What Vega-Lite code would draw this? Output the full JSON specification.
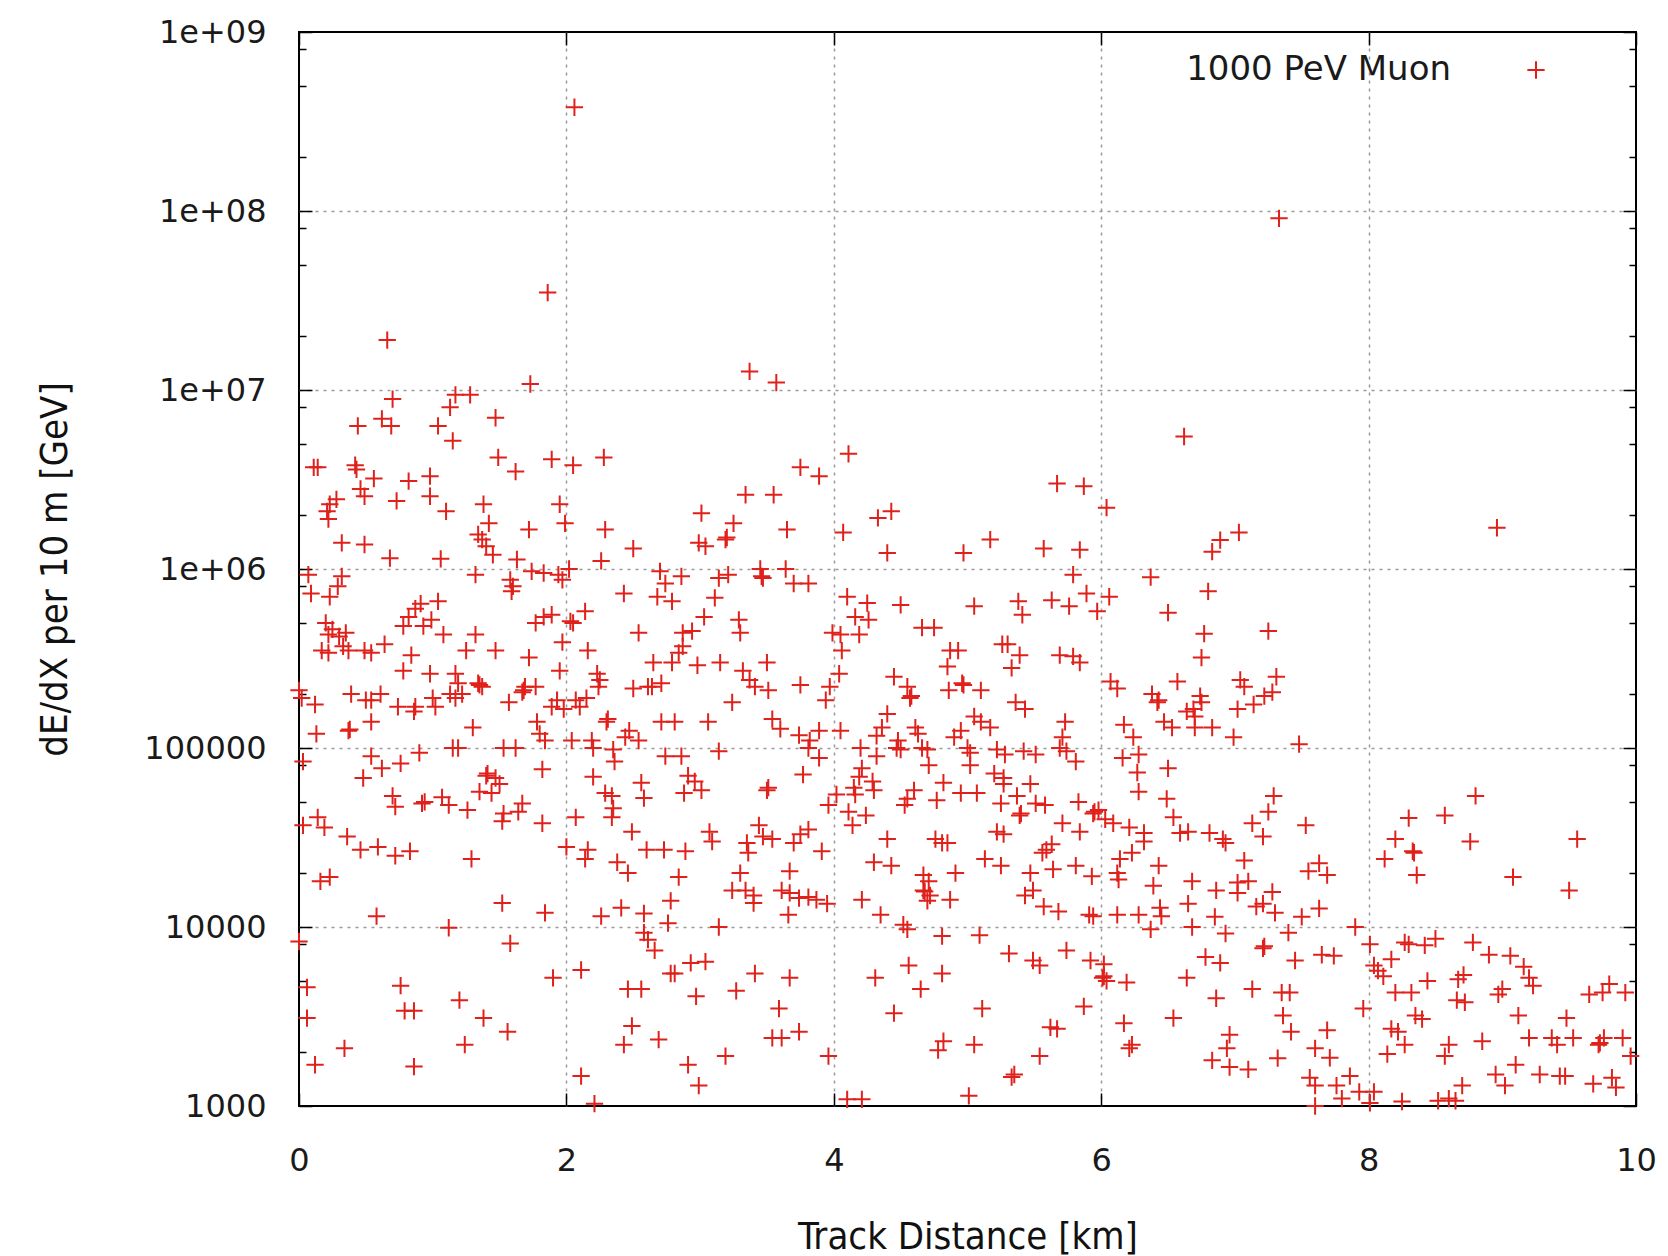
{
  "$schema": "https://vega.github.io/schema/vega-lite/v6.json",
  "width": 1337,
  "height": 1074,
  "autosize": {"type": "none"},
  "padding": {"left": 299, "top": 32, "right": 32, "bottom": 150},
  "background": "white",
  "config": {
    "view": {"stroke": "#000000", "strokeWidth": 2},
    "axis": {
      "domain": false,
      "labelFont": "DejaVu Sans",
      "labelFontSize": 32,
      "labelColor": "#1a1a1a",
      "labelFlush": false,
      "tickColor": "#000000",
      "tickWidth": 1.5,
      "titleFont": "DejaVu Sans Condensed",
      "titleFontSize": 38,
      "titleFontWeight": "normal",
      "titleColor": "#111111",
      "gridColor": "#9a9a9a",
      "gridDash": [3, 5],
      "gridWidth": 1.5,
      "gridOpacity": 1
    }
  },
  "data": {
    "values": [
      {"km":2.06,"gev":3.8e8},{"km":7.33,"gev":9.1e7},{"km":1.86,"gev":3.5e7},{"km":0.66,"gev":1.9e7},{"km":3.37,"gev":1.27e7},{"km":3.57,"gev":1.1e7},{"km":1.73,"gev":1.08e7},
      {"km":0.70,"gev":8.9e6},{"km":0.44,"gev":6.3e6},{"km":0.62,"gev":6.9e6},{"km":0.69,"gev":6.3e6},{"km":1.17,"gev":9.4e6},{"km":1.28,"gev":9.4e6},{"km":1.13,"gev":8.0e6},{"km":1.04,"gev":6.3e6},{"km":1.15,"gev":5.2e6},{"km":1.47,"gev":7.0e6},
      {"km":0.11,"gev":3.7e6},{"km":0.14,"gev":3.7e6},{"km":0.42,"gev":3.8e6},{"km":0.43,"gev":3.6e6},{"km":0.56,"gev":3.2e6},{"km":0.82,"gev":3.1e6},{"km":0.98,"gev":3.3e6},{"km":0.73,"gev":2.4e6},{"km":0.98,"gev":2.55e6},{"km":0.46,"gev":2.8e6},{"km":0.49,"gev":2.55e6},{"km":0.28,"gev":2.45e6},{"km":0.23,"gev":2.3e6},{"km":0.21,"gev":2.1e6},{"km":0.22,"gev":1.9e6},{"km":1.10,"gev":2.1e6},{"km":1.38,"gev":2.3e6},{"km":1.42,"gev":1.8e6},{"km":1.34,"gev":1.56e6},{"km":1.37,"gev":1.46e6},{"km":1.40,"gev":1.34e6},{"km":1.45,"gev":1.2e6},{"km":1.49,"gev":4.2e6},{"km":1.62,"gev":3.5e6},{"km":1.72,"gev":1.66e6},{"km":1.89,"gev":4.1e6},{"km":2.05,"gev":3.8e6},{"km":2.28,"gev":4.2e6},{"km":1.95,"gev":2.3e6},{"km":1.99,"gev":1.8e6},{"km":2.29,"gev":1.66e6},{"km":2.50,"gev":1.3e6},{"km":0.32,"gev":1.4e6},{"km":0.49,"gev":1.37e6},{"km":0.68,"gev":1.15e6},{"km":1.06,"gev":1.14e6},{"km":1.63,"gev":1.13e6},{"km":2.26,"gev":1.11e6},
      {"km":3.01,"gev":2.05e6},{"km":3.25,"gev":1.8e6},{"km":2.99,"gev":1.4e6},{"km":3.04,"gev":1.34e6},{"km":3.19,"gev":1.46e6},{"km":3.20,"gev":1.5e6},
      {"km":0.07,"gev":9.3e5},{"km":0.09,"gev":7.3e5},{"km":0.23,"gev":7.0e5},{"km":0.29,"gev":8.0e5},{"km":0.32,"gev":9.1e5},{"km":1.32,"gev":9.3e5},{"km":1.58,"gev":8.7e5},{"km":1.60,"gev":8.0e5},{"km":1.59,"gev":7.5e5},{"km":1.74,"gev":9.7e5},{"km":1.83,"gev":9.5e5},{"km":1.94,"gev":9.3e5},{"km":1.97,"gev":8.7e5},{"km":2.02,"gev":1.0e6},{"km":2.43,"gev":7.3e5},{"km":2.70,"gev":9.7e5},{"km":2.74,"gev":8.3e5},{"km":2.68,"gev":7.0e5},{"km":2.79,"gev":6.6e5},{"km":2.86,"gev":9.1e5},{"km":3.14,"gev":8.9e5},{"km":3.21,"gev":9.3e5},{"km":3.11,"gev":6.9e5},{"km":3.03,"gev":5.4e5},
      {"km":0.20,"gev":5.0e5},{"km":0.25,"gev":4.6e5},{"km":0.30,"gev":4.2e5},{"km":0.35,"gev":4.4e5},{"km":0.22,"gev":4.3e5},
      {"km":0.17,"gev":3.5e5},{"km":0.22,"gev":3.4e5},{"km":0.33,"gev":3.7e5},{"km":0.37,"gev":3.5e5},{"km":0.49,"gev":3.5e5},{"km":0.54,"gev":3.4e5},{"km":0.64,"gev":3.8e5},{"km":0.78,"gev":4.8e5},{"km":0.82,"gev":5.4e5},{"km":0.87,"gev":6.0e5},{"km":0.91,"gev":6.4e5},{"km":0.93,"gev":4.8e5},{"km":0.99,"gev":5.2e5},{"km":1.04,"gev":6.6e5},{"km":1.08,"gev":4.3e5},{"km":0.84,"gev":3.3e5},{"km":0.78,"gev":2.7e5},{"km":0.98,"gev":2.6e5},{"km":1.17,"gev":2.6e5},{"km":1.32,"gev":4.3e5},{"km":1.25,"gev":3.5e5},{"km":1.47,"gev":3.5e5},{"km":1.72,"gev":3.2e5},{"km":1.77,"gev":5.0e5},{"km":1.83,"gev":5.4e5},{"km":1.89,"gev":5.55e5},{"km":2.03,"gev":5.1e5},{"km":2.05,"gev":5.0e5},{"km":2.14,"gev":5.8e5},{"km":1.97,"gev":3.9e5},{"km":1.95,"gev":2.7e5},{"km":2.16,"gev":3.5e5},{"km":2.54,"gev":4.4e5},{"km":2.87,"gev":4.4e5},{"km":2.94,"gev":4.5e5},{"km":2.87,"gev":3.7e5},{"km":2.84,"gev":3.4e5},{"km":3.29,"gev":5.2e5},{"km":3.30,"gev":4.4e5},{"km":2.65,"gev":3.0e5},{"km":2.79,"gev":3.0e5},{"km":2.98,"gev":2.9e5},{"km":3.15,"gev":3.0e5},{"km":3.32,"gev":2.7e5},{"km":2.61,"gev":2.2e5},{"km":2.64,"gev":2.2e5},{"km":2.71,"gev":2.3e5},{"km":2.50,"gev":2.15e5},{"km":2.23,"gev":2.6e5},{"km":2.25,"gev":2.4e5},{"km":2.24,"gev":2.2e5},{"km":3.24,"gev":1.8e5},{"km":3.06,"gev":1.4e5},{"km":2.71,"gev":1.4e5},{"km":2.81,"gev":1.4e5},{"km":2.47,"gev":1.25e5},{"km":2.44,"gev":1.15e5},{"km":2.30,"gev":1.4e5},{"km":2.31,"gev":1.45e5},{"km":2.07,"gev":1.85e5},{"km":2.10,"gev":1.7e5},{"km":2.15,"gev":1.9e5},{"km":1.89,"gev":1.7e5},{"km":1.93,"gev":1.85e5},{"km":1.98,"gev":1.65e5},{"km":1.78,"gev":1.4e5},{"km":1.80,"gev":1.2e5},{"km":1.84,"gev":1.1e5},{"km":1.69,"gev":2.2e5},{"km":1.68,"gev":2.1e5},{"km":1.67,"gev":2.05e5},{"km":1.77,"gev":2.2e5},{"km":1.57,"gev":1.8e5},{"km":1.34,"gev":2.3e5},{"km":1.35,"gev":2.25e5},{"km":1.37,"gev":2.2e5},{"km":1.19,"gev":2.3e5},{"km":1.13,"gev":2.0e5},{"km":1.17,"gev":1.9e5},{"km":1.22,"gev":2.0e5},{"km":1.00,"gev":1.9e5},{"km":1.02,"gev":1.7e5},{"km":0.87,"gev":1.7e5},{"km":0.86,"gev":1.6e5},{"km":0.74,"gev":1.7e5},{"km":0.54,"gev":1.85e5},{"km":0.61,"gev":2.0e5},{"km":0.50,"gev":1.85e5},{"km":0.39,"gev":2.0e5},{"km":0.54,"gev":1.4e5},{"km":0.37,"gev":1.25e5},{"km":0.38,"gev":1.27e5},{"km":0.13,"gev":1.2e5},{"km":0.12,"gev":1.75e5},{"km":0.00,"gev":2.1e5},{"km":0.02,"gev":1.9e5},{"km":1.30,"gev":1.3e5},{"km":2.04,"gev":1.1e5},{"km":2.19,"gev":1.1e5},{"km":2.54,"gev":1.1e5},
      {"km":3.34,"gev":2.6e6},{"km":3.55,"gev":2.6e6},{"km":3.75,"gev":3.7e6},{"km":3.89,"gev":3.3e6},{"km":3.65,"gev":1.66e6},{"km":4.11,"gev":4.4e6},{"km":4.07,"gev":1.6e6},{"km":4.33,"gev":1.93e6},{"km":4.43,"gev":2.1e6},{"km":4.40,"gev":1.23e6},{"km":5.67,"gev":3.0e6},{"km":5.87,"gev":2.9e6},{"km":6.04,"gev":2.2e6},{"km":6.62,"gev":5.5e6},{"km":5.17,"gev":1.46e6},{"km":4.97,"gev":1.23e6},{"km":5.57,"gev":1.3e6},{"km":5.84,"gev":1.28e6},
      {"km":3.45,"gev":1.0e6},{"km":3.46,"gev":9.1e5},{"km":3.47,"gev":8.9e5},{"km":3.64,"gev":1.0e6},{"km":3.70,"gev":8.3e5},{"km":3.81,"gev":8.3e5},{"km":5.79,"gev":9.3e5},{"km":6.37,"gev":9.0e5},{"km":4.10,"gev":7.0e5},{"km":4.25,"gev":6.45e5},{"km":4.16,"gev":5.4e5},{"km":4.26,"gev":5.2e5},{"km":4.19,"gev":4.3e5},{"km":3.99,"gev":4.4e5},{"km":4.05,"gev":4.3e5},{"km":4.06,"gev":3.5e5},{"km":4.04,"gev":2.6e5},{"km":3.97,"gev":2.2e5},{"km":3.94,"gev":1.85e5},{"km":4.50,"gev":6.3e5},{"km":4.66,"gev":4.7e5},{"km":4.75,"gev":4.7e5},{"km":5.05,"gev":6.2e5},{"km":5.38,"gev":6.6e5},{"km":5.41,"gev":5.55e5},{"km":5.63,"gev":6.7e5},{"km":5.76,"gev":6.2e5},{"km":5.89,"gev":7.3e5},{"km":5.97,"gev":5.8e5},{"km":6.06,"gev":7.0e5},{"km":6.50,"gev":5.7e5},{"km":4.87,"gev":3.5e5},{"km":4.93,"gev":3.5e5},{"km":4.85,"gev":2.85e5},{"km":5.26,"gev":3.8e5},{"km":5.30,"gev":3.8e5},{"km":5.39,"gev":3.3e5},{"km":5.33,"gev":2.8e5},{"km":5.69,"gev":3.3e5},{"km":5.79,"gev":3.25e5},{"km":5.84,"gev":3.0e5},{"km":3.50,"gev":3.0e5},{"km":3.37,"gev":2.4e5},{"km":3.41,"gev":2.2e5},{"km":3.51,"gev":2.1e5},{"km":3.75,"gev":2.25e5},{"km":4.45,"gev":2.5e5},{"km":4.55,"gev":2.2e5},{"km":4.57,"gev":1.9e5},{"km":4.58,"gev":1.95e5},{"km":4.86,"gev":2.1e5},{"km":4.96,"gev":2.3e5},{"km":4.97,"gev":2.25e5},{"km":5.10,"gev":2.1e5},{"km":5.36,"gev":1.8e5},{"km":5.43,"gev":1.65e5},{"km":6.07,"gev":2.35e5},{"km":6.12,"gev":2.15e5},{"km":6.38,"gev":2.0e5},{"km":6.42,"gev":1.8e5},{"km":6.43,"gev":1.85e5},{"km":6.57,"gev":2.35e5},{"km":6.64,"gev":1.6e5},{"km":6.47,"gev":1.4e5},{"km":6.53,"gev":1.3e5},{"km":6.17,"gev":1.35e5},{"km":6.24,"gev":1.15e5},{"km":5.73,"gev":1.4e5},{"km":5.71,"gev":1.15e5},{"km":5.05,"gev":1.5e5},{"km":5.10,"gev":1.4e5},{"km":5.17,"gev":1.3e5},{"km":4.95,"gev":1.25e5},{"km":4.90,"gev":1.15e5},{"km":4.61,"gev":1.3e5},{"km":4.63,"gev":1.2e5},{"km":4.40,"gev":1.55e5},{"km":4.36,"gev":1.3e5},{"km":4.32,"gev":1.17e5},{"km":4.48,"gev":1.1e5},{"km":3.54,"gev":1.45e5},{"km":3.60,"gev":1.28e5},{"km":3.74,"gev":1.18e5},{"km":3.82,"gev":1.1e5},{"km":3.89,"gev":1.25e5},{"km":4.05,"gev":1.25e5},
      {"km":7.03,"gev":1.6e6},{"km":6.89,"gev":1.45e6},{"km":6.83,"gev":1.25e6},{"km":8.96,"gev":1.7e6},{"km":6.80,"gev":7.5e5},{"km":6.77,"gev":4.35e5},{"km":7.25,"gev":4.5e5},{"km":6.75,"gev":3.2e5},{"km":7.04,"gev":2.4e5},{"km":7.07,"gev":2.2e5},{"km":7.31,"gev":2.5e5},{"km":7.28,"gev":2.05e5},{"km":7.22,"gev":1.95e5},{"km":7.14,"gev":1.75e5},{"km":6.74,"gev":1.95e5},{"km":6.75,"gev":1.8e5},{"km":6.69,"gev":1.65e5},{"km":6.70,"gev":1.5e5},{"km":7.02,"gev":1.65e5},{"km":6.70,"gev":1.3e5},{"km":6.83,"gev":1.3e5},{"km":6.99,"gev":1.15e5},{"km":7.48,"gev":1.05e5},
      {"km":0.03,"gev":8.4e4},{"km":0.54,"gev":9.0e4},{"km":0.62,"gev":7.7e4},{"km":0.76,"gev":8.2e4},{"km":0.90,"gev":9.4e4},{"km":1.15,"gev":1.0e5},{"km":1.19,"gev":1.0e5},{"km":0.48,"gev":6.8e4},{"km":0.70,"gev":5.4e4},{"km":0.72,"gev":4.7e4},{"km":0.92,"gev":4.9e4},{"km":0.94,"gev":5.0e4},{"km":1.07,"gev":5.3e4},{"km":1.12,"gev":4.8e4},{"km":1.26,"gev":4.5e4},{"km":1.40,"gev":7.0e4},{"km":1.41,"gev":7.2e4},{"km":1.47,"gev":6.8e4},{"km":1.50,"gev":6.3e4},{"km":1.35,"gev":5.7e4},{"km":1.44,"gev":5.6e4},{"km":1.53,"gev":4.3e4},{"km":1.52,"gev":3.9e4},{"km":1.67,"gev":4.9e4},{"km":1.64,"gev":4.4e4},{"km":1.82,"gev":7.6e4},{"km":1.82,"gev":3.8e4},{"km":1.53,"gev":1.0e5},{"km":1.62,"gev":1.0e5},{"km":0.14,"gev":4.1e4},{"km":0.19,"gev":3.6e4},{"km":0.03,"gev":3.7e4},{"km":0.36,"gev":3.2e4},{"km":0.46,"gev":2.7e4},{"km":0.59,"gev":2.8e4},{"km":0.72,"gev":2.5e4},{"km":0.83,"gev":2.65e4},{"km":1.29,"gev":2.4e4},{"km":0.16,"gev":1.8e4},{"km":0.23,"gev":1.9e4},{"km":0.58,"gev":1.15e4},{"km":1.12,"gev":9.9e3},{"km":1.52,"gev":1.36e4},{"km":1.58,"gev":8.1e3},{"km":1.84,"gev":1.2e4},{"km":0.00,"gev":8.3e3},{"km":0.06,"gev":4.6e3},{"km":0.06,"gev":3.1e3},{"km":0.12,"gev":1.7e3},{"km":0.34,"gev":2.1e3},{"km":0.76,"gev":4.7e3},{"km":0.79,"gev":3.4e3},{"km":0.86,"gev":3.4e3},{"km":0.86,"gev":1.66e3},{"km":1.20,"gev":3.9e3},{"km":1.38,"gev":3.1e3},{"km":1.24,"gev":2.2e3},{"km":1.56,"gev":2.6e3},{"km":1.90,"gev":5.2e3},{"km":2.11,"gev":5.75e3},{"km":2.11,"gev":1.47e3},{"km":2.21,"gev":1.03e3},{"km":2.07,"gev":4.1e4},{"km":2.20,"gev":6.9e4},{"km":2.20,"gev":1.0e5},{"km":2.35,"gev":9.8e4},{"km":2.36,"gev":8.4e4},{"km":2.29,"gev":5.6e4},{"km":2.34,"gev":5.4e4},{"km":2.35,"gev":4.6e4},{"km":2.34,"gev":4.1e4},{"km":2.00,"gev":2.8e4},{"km":2.16,"gev":2.7e4},{"km":2.14,"gev":2.4e4},{"km":2.38,"gev":2.3e4},{"km":2.46,"gev":2.0e4},{"km":2.49,"gev":3.4e4},{"km":2.56,"gev":6.4e4},{"km":2.58,"gev":5.25e4},{"km":2.74,"gev":9.0e4},{"km":2.86,"gev":9.0e4},{"km":2.91,"gev":7.0e4},{"km":2.96,"gev":6.5e4},{"km":3.01,"gev":5.8e4},{"km":2.88,"gev":5.6e4},{"km":3.07,"gev":3.4e4},{"km":3.09,"gev":3.0e4},{"km":3.14,"gev":9.6e4},{"km":2.60,"gev":2.7e4},{"km":2.73,"gev":2.7e4},{"km":2.89,"gev":2.65e4},{"km":2.84,"gev":1.9e4},{"km":3.24,"gev":1.6e4},{"km":3.30,"gev":2.0e4},{"km":2.26,"gev":1.15e4},{"km":2.41,"gev":1.28e4},{"km":2.58,"gev":1.19e4},{"km":2.78,"gev":1.4e4},{"km":2.76,"gev":1.05e4},{"km":3.14,"gev":1.0e4},{"km":2.58,"gev":9.3e3},{"km":2.61,"gev":8.5e3},{"km":2.66,"gev":7.4e3},{"km":2.78,"gev":5.5e3},{"km":2.81,"gev":5.5e3},{"km":2.93,"gev":6.3e3},{"km":3.04,"gev":6.4e3},{"km":2.46,"gev":4.5e3},{"km":2.56,"gev":4.5e3},{"km":2.97,"gev":4.1e3},{"km":3.27,"gev":4.4e3},{"km":2.49,"gev":2.8e3},{"km":2.43,"gev":2.2e3},{"km":2.69,"gev":2.35e3},{"km":2.91,"gev":1.7e3},{"km":2.99,"gev":1.3e3},{"km":3.19,"gev":1.9e3},
      {"km":3.81,"gev":1.0e5},{"km":3.89,"gev":8.8e4},{"km":3.77,"gev":7.1e4},{"km":3.50,"gev":5.8e4},{"km":3.51,"gev":6.0e4},{"km":4.20,"gev":1.0e5},{"km":4.32,"gev":9.0e4},{"km":4.47,"gev":1.0e5},{"km":4.50,"gev":9.8e4},{"km":4.66,"gev":1.0e5},{"km":4.70,"gev":9.8e4},{"km":4.21,"gev":7.7e4},{"km":4.19,"gev":6.9e4},{"km":4.29,"gev":6.5e4},{"km":4.30,"gev":5.8e4},{"km":4.02,"gev":5.5e4},{"km":3.96,"gev":4.8e4},{"km":4.15,"gev":6.0e4},{"km":4.16,"gev":5.5e4},{"km":4.11,"gev":4.4e4},{"km":4.14,"gev":3.7e4},{"km":4.24,"gev":4.2e4},{"km":4.71,"gev":8.0e4},{"km":4.60,"gev":5.8e4},{"km":4.55,"gev":5.2e4},{"km":4.53,"gev":4.8e4},{"km":4.77,"gev":5.1e4},{"km":4.82,"gev":6.4e4},{"km":4.95,"gev":5.6e4},{"km":5.07,"gev":5.6e4},{"km":5.00,"gev":1.0e5},{"km":5.02,"gev":9.4e4},{"km":5.02,"gev":8.0e4},{"km":5.22,"gev":9.8e4},{"km":5.28,"gev":9.2e4},{"km":5.42,"gev":9.6e4},{"km":5.51,"gev":9.2e4},{"km":5.69,"gev":1.0e5},{"km":5.74,"gev":9.6e4},{"km":5.81,"gev":8.4e4},{"km":5.20,"gev":7.2e4},{"km":5.27,"gev":6.8e4},{"km":5.27,"gev":6.3e4},{"km":5.47,"gev":6.3e4},{"km":5.37,"gev":5.4e4},{"km":5.25,"gev":4.9e4},{"km":5.39,"gev":4.2e4},{"km":5.40,"gev":4.3e4},{"km":5.51,"gev":4.9e4},{"km":5.58,"gev":4.8e4},{"km":5.71,"gev":3.8e4},{"km":5.83,"gev":5.0e4},{"km":5.84,"gev":3.4e4},{"km":5.94,"gev":4.3e4},{"km":5.95,"gev":4.4e4},{"km":5.98,"gev":4.5e4},{"km":6.03,"gev":4.0e4},{"km":6.09,"gev":3.8e4},{"km":6.16,"gev":8.8e4},{"km":6.28,"gev":9.2e4},{"km":6.27,"gev":7.3e4},{"km":6.28,"gev":5.7e4},{"km":6.50,"gev":7.7e4},{"km":6.49,"gev":5.2e4},{"km":6.21,"gev":3.6e4},{"km":6.32,"gev":3.35e4},{"km":6.23,"gev":2.6e4},{"km":6.14,"gev":2.4e4},{"km":6.32,"gev":3.0e4},{"km":6.54,"gev":4.1e4},{"km":6.59,"gev":3.35e4},{"km":6.43,"gev":2.2e4},{"km":6.39,"gev":1.7e4},{"km":6.44,"gev":1.28e4},{"km":6.37,"gev":9.7e3},{"km":6.28,"gev":1.17e4},{"km":6.45,"gev":1.15e4},{"km":6.12,"gev":2.0e4},{"km":6.13,"gev":1.84e4},{"km":6.12,"gev":1.17e4},{"km":5.91,"gev":1.17e4},{"km":5.94,"gev":1.15e4},{"km":5.93,"gev":1.92e4},{"km":5.81,"gev":2.2e4},{"km":5.64,"gev":2.1e4},{"km":5.59,"gev":2.7e4},{"km":5.63,"gev":2.9e4},{"km":5.56,"gev":2.6e4},{"km":5.47,"gev":2.0e4},{"km":5.49,"gev":1.6e4},{"km":5.43,"gev":1.5e4},{"km":5.57,"gev":1.3e4},{"km":5.68,"gev":1.22e4},{"km":5.22,"gev":3.4e4},{"km":5.27,"gev":3.3e4},{"km":5.13,"gev":2.4e4},{"km":5.25,"gev":2.2e4},{"km":4.91,"gev":2.0e4},{"km":4.87,"gev":1.42e4},{"km":4.67,"gev":1.95e4},{"km":4.71,"gev":1.8e4},{"km":4.67,"gev":1.6e4},{"km":4.68,"gev":1.58e4},{"km":4.72,"gev":1.5e4},{"km":4.70,"gev":1.4e4},{"km":4.81,"gev":2.95e4},{"km":4.85,"gev":2.95e4},{"km":4.76,"gev":3.1e4},{"km":4.40,"gev":3.1e4},{"km":4.30,"gev":2.3e4},{"km":4.43,"gev":2.2e4},{"km":4.35,"gev":1.17e4},{"km":4.21,"gev":1.42e4},{"km":4.52,"gev":1.03e4},{"km":4.55,"gev":9.7e3},{"km":3.34,"gev":1.6e4},{"km":3.40,"gev":1.5e4},{"km":3.40,"gev":1.36e4},{"km":3.44,"gev":3.7e4},{"km":3.47,"gev":3.2e4},{"km":3.54,"gev":3.1e4},{"km":3.35,"gev":2.95e4},{"km":3.36,"gev":2.6e4},{"km":3.70,"gev":2.95e4},{"km":3.75,"gev":3.3e4},{"km":3.81,"gev":3.5e4},{"km":3.67,"gev":2.05e4},{"km":3.61,"gev":1.6e4},{"km":3.67,"gev":1.55e4},{"km":3.74,"gev":1.45e4},{"km":3.81,"gev":1.47e4},{"km":3.87,"gev":1.42e4},{"km":3.95,"gev":1.35e4},{"km":3.66,"gev":1.17e4},{"km":3.91,"gev":2.65e4},
      {"km":4.81,"gev":8.9e3},{"km":5.09,"gev":9.0e3},{"km":5.31,"gev":7.1e3},{"km":5.49,"gev":6.5e3},{"km":5.54,"gev":6.1e3},{"km":5.74,"gev":7.4e3},{"km":5.92,"gev":6.5e3},{"km":6.02,"gev":6.2e3},{"km":6.01,"gev":5.2e3},{"km":6.02,"gev":5.3e3},{"km":6.04,"gev":5.0e3},{"km":6.19,"gev":4.9e3},{"km":5.87,"gev":3.6e3},{"km":6.17,"gev":2.9e3},{"km":6.23,"gev":2.2e3},{"km":6.21,"gev":2.1e3},{"km":6.54,"gev":3.1e3},{"km":6.64,"gev":5.2e3},{"km":3.41,"gev":5.5e3},{"km":3.67,"gev":5.2e3},{"km":3.59,"gev":3.5e3},{"km":3.54,"gev":2.4e3},{"km":3.61,"gev":2.4e3},{"km":3.74,"gev":2.6e3},{"km":3.96,"gev":1.9e3},{"km":4.10,"gev":1.09e3},{"km":4.21,"gev":1.09e3},{"km":4.31,"gev":5.2e3},{"km":4.45,"gev":3.3e3},{"km":4.65,"gev":4.5e3},{"km":4.56,"gev":6.1e3},{"km":4.81,"gev":5.5e3},{"km":5.11,"gev":3.5e3},{"km":4.82,"gev":2.3e3},{"km":4.78,"gev":2.05e3},{"km":5.05,"gev":2.2e3},{"km":5.33,"gev":1.45e3},{"km":5.35,"gev":1.5e3},{"km":5.01,"gev":1.14e3},{"km":5.54,"gev":1.9e3},{"km":5.62,"gev":2.75e3},{"km":5.67,"gev":2.7e3},
      {"km":7.29,"gev":5.4e4},{"km":7.25,"gev":4.4e4},{"km":7.13,"gev":3.8e4},{"km":7.21,"gev":3.2e4},{"km":7.53,"gev":3.7e4},{"km":6.65,"gev":3.4e4},{"km":6.81,"gev":3.35e4},{"km":6.91,"gev":3.1e4},{"km":6.93,"gev":2.95e4},{"km":7.07,"gev":2.35e4},{"km":7.10,"gev":1.8e4},{"km":7.02,"gev":1.77e4},{"km":7.02,"gev":1.55e4},{"km":6.86,"gev":1.6e4},{"km":6.68,"gev":1.8e4},{"km":7.63,"gev":2.27e4},{"km":7.55,"gev":2.05e4},{"km":7.69,"gev":1.95e4},{"km":7.28,"gev":1.57e4},{"km":7.16,"gev":1.3e4},{"km":7.21,"gev":1.35e4},{"km":7.30,"gev":1.2e4},{"km":6.65,"gev":1.35e4},{"km":6.85,"gev":1.14e4},{"km":7.50,"gev":1.14e4},{"km":7.63,"gev":1.27e4},{"km":6.68,"gev":1.0e4},{"km":6.93,"gev":9.2e3},{"km":7.21,"gev":7.6e3},{"km":7.22,"gev":7.8e3},{"km":7.40,"gev":9.3e3},{"km":6.78,"gev":6.8e3},{"km":6.89,"gev":6.3e3},{"km":7.45,"gev":6.5e3},{"km":7.65,"gev":7.0e3},{"km":7.74,"gev":6.9e3},{"km":7.90,"gev":1.0e4},{"km":8.01,"gev":8.0e3},{"km":8.17,"gev":6.6e3},{"km":8.04,"gev":6.1e3},{"km":8.07,"gev":5.7e3},{"km":8.11,"gev":5.3e3},{"km":8.27,"gev":8.2e3},{"km":8.30,"gev":8.0e3},{"km":8.42,"gev":7.9e3},{"km":8.50,"gev":8.6e3},{"km":8.78,"gev":8.2e3},{"km":8.90,"gev":7.0e3},{"km":9.06,"gev":6.9e3},{"km":9.16,"gev":6.0e3},{"km":9.20,"gev":5.2e3},{"km":9.23,"gev":4.7e3},{"km":8.20,"gev":4.3e3},{"km":8.32,"gev":4.3e3},{"km":8.44,"gev":5.0e3},{"km":8.67,"gev":5.1e3},{"km":8.71,"gev":5.4e3},{"km":8.66,"gev":3.9e3},{"km":8.72,"gev":3.8e3},{"km":8.97,"gev":4.2e3},{"km":9.00,"gev":4.5e3},{"km":9.12,"gev":3.2e3},{"km":9.48,"gev":3.1e3},{"km":9.65,"gev":4.2e3},{"km":9.75,"gev":4.3e3},{"km":9.80,"gev":4.8e3},{"km":9.92,"gev":4.3e3},{"km":8.35,"gev":3.2e3},{"km":8.40,"gev":3.06e3},{"km":8.17,"gev":2.7e3},{"km":8.22,"gev":2.6e3},{"km":8.27,"gev":2.2e3},{"km":8.14,"gev":1.95e3},{"km":8.60,"gev":2.2e3},{"km":8.57,"gev":1.9e3},{"km":8.85,"gev":2.3e3},{"km":9.20,"gev":2.4e3},{"km":9.37,"gev":2.4e3},{"km":9.41,"gev":2.2e3},{"km":9.53,"gev":2.4e3},{"km":9.72,"gev":2.2e3},{"km":9.73,"gev":2.25e3},{"km":9.76,"gev":2.4e3},{"km":9.90,"gev":2.4e3},{"km":9.96,"gev":1.9e3},{"km":9.10,"gev":1.7e3},{"km":8.95,"gev":1.5e3},{"km":9.02,"gev":1.3e3},{"km":9.28,"gev":1.5e3},{"km":9.43,"gev":1.47e3},{"km":9.47,"gev":1.47e3},{"km":9.68,"gev":1.33e3},{"km":9.82,"gev":1.44e3},{"km":9.85,"gev":1.27e3},{"km":8.70,"gev":1.3e3},{"km":8.52,"gev":1.07e3},{"km":8.60,"gev":1.1e3},{"km":8.65,"gev":1.07e3},{"km":8.25,"gev":1.06e3},{"km":8.01,"gev":1.04e3},{"km":8.04,"gev":1.2e3},{"km":7.93,"gev":1.2e3},{"km":7.86,"gev":1.47e3},{"km":7.76,"gev":1.3e3},{"km":7.80,"gev":1.1e3},{"km":7.56,"gev":1.44e3},{"km":7.60,"gev":1.3e3},{"km":7.60,"gev":1.0e3},{"km":7.13,"gev":4.5e3},{"km":7.35,"gev":4.3e3},{"km":7.41,"gev":4.3e3},{"km":6.86,"gev":4.0e3},{"km":7.36,"gev":3.2e3},{"km":7.42,"gev":2.6e3},{"km":7.69,"gev":2.65e3},{"km":7.96,"gev":3.5e3},{"km":6.96,"gev":2.5e3},{"km":6.94,"gev":2.1e3},{"km":6.83,"gev":1.8e3},{"km":6.96,"gev":1.65e3},{"km":7.10,"gev":1.6e3},{"km":7.32,"gev":1.85e3},{"km":7.60,"gev":2.1e3},{"km":7.71,"gev":1.86e3},
      {"km":8.80,"gev":5.4e4},{"km":8.30,"gev":4.06e4},{"km":8.57,"gev":4.2e4},{"km":8.20,"gev":3.1e4},{"km":8.34,"gev":2.6e4},{"km":8.33,"gev":2.65e4},{"km":8.76,"gev":3.0e4},{"km":8.12,"gev":2.4e4},{"km":8.36,"gev":1.95e4},{"km":9.08,"gev":1.9e4},{"km":9.50,"gev":1.6e4},{"km":9.56,"gev":3.1e4}
    ]
  },
  "layer": [
    {
      "mark": {"type": "point", "shape": "M-1,0H1M0,-1V1", "filled": false, "size": 300, "strokeWidth": 2, "opacity": 1},
      "encoding": {
        "x": {"field": "km", "type": "quantitative", "scale": {"domain": [0, 10], "nice": false, "zero": false},
              "axis": {"orient": "bottom", "values": [2, 4, 6, 8], "grid": true, "ticks": false, "labels": false, "title": null}},
        "y": {"field": "gev", "type": "quantitative", "scale": {"type": "log", "domain": [1000, 1000000000], "nice": false},
              "axis": {"orient": "left", "values": [10000, 100000, 1000000, 10000000, 100000000], "grid": true, "ticks": false, "labels": false, "title": null}},
        "color": {"datum": "1000 PeV Muon", "scale": {"range": ["#e0201a"]},
                  "legend": {"orient": "none", "legendX": 1220, "legendY": 21, "title": null, "padding": 0,
                             "symbolType": "M-1,0H1M0,-1V1", "symbolSize": 300, "symbolStrokeWidth": 2,
                             "symbolFillColor": "transparent", "symbolStrokeColor": "#e0201a",
                             "labelFont": "DejaVu Sans", "labelFontSize": 34, "labelColor": "#1a1a1a",
                             "labelAlign": "right", "labelOffset": -102, "labelLimit": 0}}
      }
    },
    {
      "transform": [{"filter": "false"}],
      "mark": {"type": "point", "opacity": 0},
      "encoding": {
        "x": {"field": "km", "type": "quantitative",
              "axis": {"orient": "bottom", "values": [0, 2, 4, 6, 8, 10], "grid": false, "tickSize": -13, "labelPadding": 67, "labelBaseline": "middle", "format": "d", "title": "Track Distance [km]", "titlePadding": 42}},
        "y": {"field": "gev", "type": "quantitative",
              "axis": {"orient": "left", "values": [1000, 10000, 100000, 1000000, 10000000, 100000000, 1000000000], "grid": false, "tickSize": -13, "labelPadding": 46,
                       "labelExpr": "datum.value >= 1000000 ? '1e+0' + round(log(datum.value) / LN10) : format(datum.value, 'd')",
                       "title": "dE/dX per 10 m [GeV]", "titlePadding": 69}}
      }
    },
    {
      "transform": [{"filter": "false"}],
      "mark": {"type": "point", "opacity": 0},
      "encoding": {
        "x": {"field": "km", "type": "quantitative",
              "axis": {"orient": "top", "values": [0, 2, 4, 6, 8, 10], "grid": false, "tickSize": -13, "labels": false, "title": null}},
        "y": {"field": "gev", "type": "quantitative",
              "axis": {"orient": "right", "values": [1000, 10000, 100000, 1000000, 10000000, 100000000, 1000000000], "grid": false, "tickSize": -13, "labels": false, "title": null}}
      }
    },
    {
      "transform": [{"filter": "false"}],
      "mark": {"type": "point", "opacity": 0},
      "encoding": {
        "x": {"field": "km", "type": "quantitative", "axis": null},
        "y": {"field": "gev", "type": "quantitative",
              "axis": {"orient": "left", "values": [2000, 5000, 8000, 20000, 50000, 80000, 200000, 500000, 800000, 2000000, 5000000, 8000000, 20000000, 50000000, 80000000, 200000000, 500000000, 800000000], "grid": false, "tickSize": -7, "labels": false, "title": null}}
      }
    },
    {
      "transform": [{"filter": "false"}],
      "mark": {"type": "point", "opacity": 0},
      "encoding": {
        "x": {"field": "km", "type": "quantitative", "axis": null},
        "y": {"field": "gev", "type": "quantitative",
              "axis": {"orient": "right", "values": [2000, 5000, 8000, 20000, 50000, 80000, 200000, 500000, 800000, 2000000, 5000000, 8000000, 20000000, 50000000, 80000000, 200000000, 500000000, 800000000], "grid": false, "tickSize": -7, "labels": false, "title": null}}
      }
    }
  ],
  "resolve": {"axis": {"x": "independent", "y": "independent"}}
}
